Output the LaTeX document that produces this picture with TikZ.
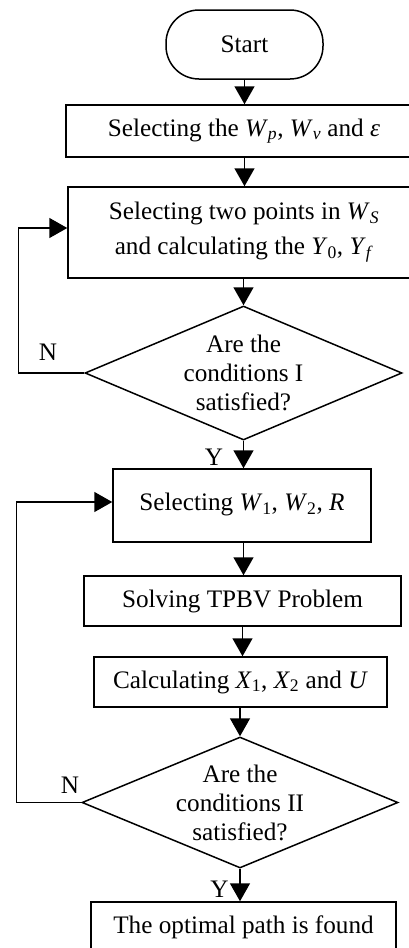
\documentclass[tikz,border=0pt]{standalone}
\usepackage{fontspec}
\setmainfont{Liberation Serif}
\usetikzlibrary{shapes.geometric,arrows.meta}
\newcommand\sbs[1]{\textsubscript{#1}}
\begin{document}
\begin{tikzpicture}[x=1pt,y=1pt, line width=1.5pt,
  every node/.style={font=\fontsize{25.2}{29}\selectfont},
  box/.style={draw, rectangle, inner sep=0pt, align=center},
  term/.style={draw, rectangle, rounded corners=33pt, minimum width=157pt, minimum height=69pt},
  dec/.style={draw, diamond, inner sep=0pt},
  arr/.style={-{Triangle[width=20pt,length=18pt]}},
  lbl/.style={inner sep=0pt}]
\useasboundingbox (0,0) rectangle (409,-948);
\clip (0,0) rectangle (409,-948);

\node[term] (start) at (244.5,-44.5) {Start};
\node[box, minimum width=356pt, minimum height=52pt] (b1) at (244,-131)
  {Selecting the \textit{W}\sbs{\textit{p}}, \textit{W}\sbs{\textit{v}} and \textit{ε}};
\node[box, minimum width=352pt, minimum height=91pt] (b2) at (244,-232.5)
  {Selecting two points in \textit{W}\sbs{\textit{S}}\\[6pt]and calculating the \textit{Y}\sbs{0}, \textit{Y}\sbs{\textit{f}}};
\node[dec, minimum width=317pt, minimum height=134pt] (d1) at (243.5,-373) {};
\node[align=center, inner sep=0pt] (t1) at (d1) {Are the\\conditions I\\satisfied?};
\node[box, minimum width=258pt, minimum height=73pt] (b3) at (242,-505.5)
  {\raisebox{7pt}{Selecting \textit{W}\sbs{1}, \textit{W}\sbs{2}, \textit{R}}};
\node[box, minimum width=317pt, minimum height=50pt] (b4) at (242.5,-601) {Solving TPBV Problem};
\node[box, minimum width=293pt, minimum height=50pt] (b5) at (240.5,-682)
  {Calculating \textit{X}\sbs{1}, \textit{X}\sbs{2} and \textit{U}};
\node[dec, minimum width=316pt, minimum height=131pt] (d2) at (240,-802.5) {};
\node[align=center, inner sep=0pt] (t2) at (d2) {Are the\\conditions II\\satisfied?};
\node[box, minimum width=305pt, minimum height=50pt] (b6) at (243.5,-927) {The optimal path is found};

\node[lbl] (n1) at (48,-352) {N};
\node[lbl] (y1) at (214,-457) {Y};
\node[lbl] (n2) at (70,-785) {N};
\node[lbl] (y2) at (219.5,-889.5) {Y};

\draw[arr] (start.south) -- (start.south |- b1.north);
\draw[arr] (b1.south -| start.south) -- (start.south |- b2.north);
\draw[arr] (b2.south -| d1.north) -- (d1.north);
\draw[arr] (d1.south) -- (d1.south |- b3.north);
\draw[arr] (b3.south -| d1.south) -- (d1.south |- b4.north);
\draw[arr] (b4.south) -- (b4.south |- b5.north);
\draw[arr] (b5.south -| d2.north) -- (d2.north);
\draw[arr] (d2.south) -- (d2.south |- b6.north);

\draw[arr] (d1.west) -- ++(-66,0) |- ([yshift=4.5pt]b2.west);
\draw[arr] (d2.west) -- ++(-65,0) |- ([yshift=3.5pt]b3.west);
\end{tikzpicture}
\end{document}
